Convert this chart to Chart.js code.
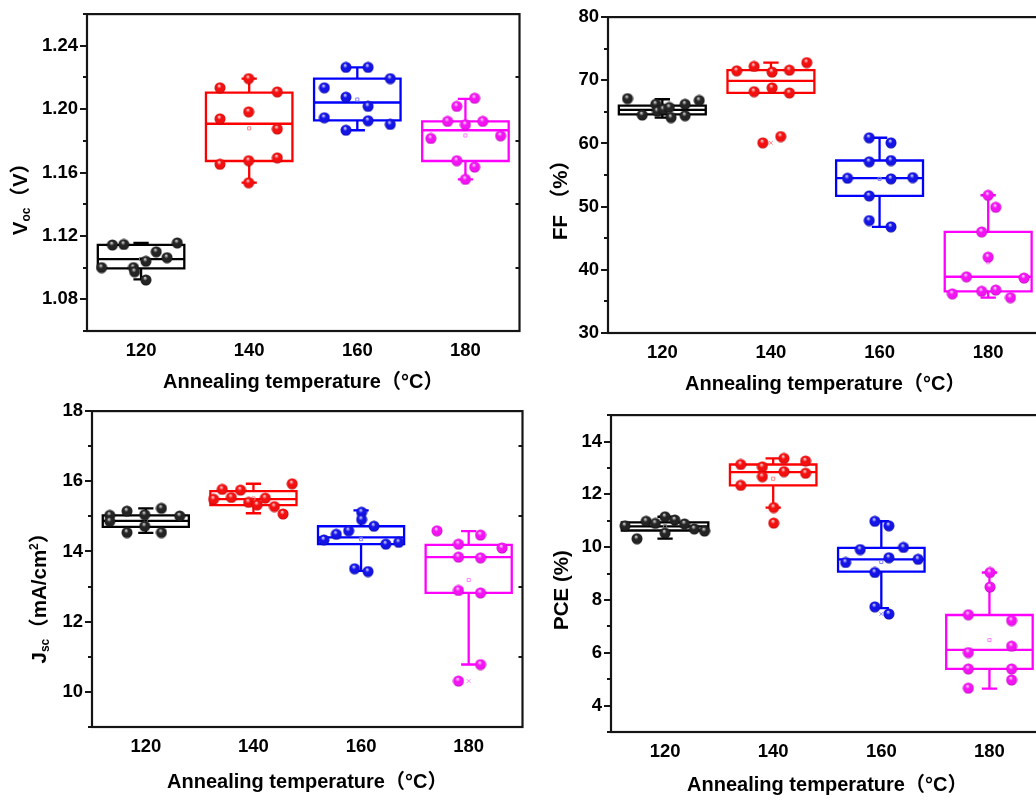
<!DOCTYPE html>
<html>
<head>
<meta charset="utf-8">
<script src="https://cdn.jsdelivr.net/npm/chart.js@4.4.1/dist/chart.umd.min.js"></script>
<style>
    html, body { margin: 0; padding: 0; width: 1036px; height: 800px; overflow: hidden; background: #fff; }
    canvas { position: absolute; }
</style>
</head>
<body>
<canvas id="voc"></canvas>
<canvas id="ff"></canvas>
<canvas id="jsc"></canvas>
<canvas id="pce"></canvas>
<script>
// ========================================
// Device parameters vs. annealing temperature (box + scatter)
// ========================================

const temps = [120, 140, 160, 180];
const tempTicks = [120, 140, 160, 180];

// Voc (V) — x holds the jittered position of each device inside its box
const vocX = [
    [114.7, 116.8, 126.7, 122.8, 124.8, 120.9, 112.7, 118.6, 118.8, 120.9],
    [134.6, 139.9, 145.2, 139.9, 134.6, 145.2, 134.6, 139.9, 145.2, 139.9],
    [157.9, 162.0, 166.1, 153.9, 157.9, 162.0, 153.9, 162.0, 166.1, 157.9],
    [181.7, 178.4, 176.7, 180.0, 183.2, 173.6, 186.5, 178.4, 181.7, 180.0]
];
const vocY = [
    [1.1143, 1.1146, 1.1156, 1.1100, 1.1063, 1.1040, 1.1000, 1.1000, 1.0974, 1.0922],
    [1.2135, 1.2193, 1.2109, 1.1983, 1.1939, 1.1875, 1.1652, 1.1675, 1.1693, 1.1536],
    [1.2264, 1.2264, 1.2193, 1.2135, 1.2076, 1.2018, 1.1946, 1.1927, 1.1904, 1.1867],
    [1.2069, 1.2018, 1.1923, 1.1902, 1.1923, 1.1815, 1.1832, 1.1675, 1.1635, 1.1557]
];
const vocQ1 = [1.0995, 1.1673, 1.1929, 1.1673];
const vocMed = [1.1053, 1.1908, 1.2042, 1.1867];
const vocQ3 = [1.1143, 1.2104, 1.2193, 1.1923];
const vocLo = [1.0926, 1.1536, 1.1867, 1.1557];
const vocHi = [1.1156, 1.2193, 1.2264, 1.2065];
const vocMean = [1.1054, 1.1879, 1.2061, 1.1834];
const vocCross = [null, null, null, null];
const vocTicks = [1.08, 1.12, 1.16, 1.20, 1.24];

// FF (%)
const ffX = [
    [113.6, 116.3, 118.8, 119.1, 120.2, 121.6, 124.2, 124.2, 126.8, 121.3],
    [133.7, 136.9, 140.2, 143.4, 146.6, 136.9, 140.2, 143.4, 138.5, 141.8],
    [158.1, 162.1, 158.1, 162.1, 154.1, 162.1, 166.1, 158.1, 158.1, 162.1],
    [180.0, 181.4, 178.8, 180.0, 176.0, 186.6, 173.4, 178.8, 181.4, 184.1]
];
const ffY = [
    [67.1, 64.5, 66.2, 65.1, 65.4, 64.1, 66.2, 64.4, 66.8, 65.7],
    [71.5, 72.2, 71.3, 71.6, 72.8, 68.2, 68.8, 68.0, 60.1, 61.1],
    [60.9, 60.1, 57.1, 57.3, 54.5, 54.4, 54.6, 51.7, 47.8, 46.8],
    [51.8, 49.9, 46.0, 42.0, 38.9, 38.7, 36.2, 36.6, 36.8, 35.6]
];
const ffQ1 = [64.6, 68.0, 51.7, 36.6];
const ffMed = [65.3, 69.9, 54.5, 38.9];
const ffQ3 = [66.0, 71.6, 57.3, 46.0];
const ffLo = [64.1, 68.0, 46.8, 35.6];
const ffHi = [67.0, 72.8, 60.9, 51.8];
const ffMean = [65.5, 68.5, 54.4, 41.2];
const ffCross = [null, 60.1, null, null];
const ffTicks = [30, 40, 50, 60, 70, 80];

// Jsc (mA/cm2)
const jscX = [
    [113.3, 113.3, 116.5, 116.5, 119.8, 119.8, 122.9, 122.9, 126.3],
    [132.6, 134.2, 135.9, 137.6, 139.1, 140.7, 142.2, 143.9, 145.5, 147.2],
    [153.1, 155.4, 157.7, 160.1, 160.1, 162.4, 164.6, 167.0, 158.8, 161.3],
    [174.1, 178.1, 182.2, 186.2, 178.1, 182.2, 178.1, 182.2, 182.2, 178.1]
];
const jscY = [
    [15.03, 14.86, 15.15, 14.54, 15.05, 14.72, 15.23, 14.54, 15.01],
    [15.49, 15.77, 15.54, 15.75, 15.40, 15.33, 15.52, 15.28, 15.07, 15.93],
    [14.33, 14.49, 14.59, 15.12, 14.91, 14.72, 14.21, 14.26, 13.51, 13.43],
    [14.59, 14.21, 14.47, 14.10, 13.84, 13.82, 12.89, 12.82, 10.78, 10.31]
];
const jscQ1 = [14.70, 15.32, 14.21, 12.82];
const jscMed = [14.87, 15.49, 14.40, 13.84];
const jscQ3 = [15.03, 15.72, 14.72, 14.19];
const jscLo = [14.53, 15.09, 13.45, 10.78];
const jscHi = [15.23, 15.93, 15.17, 14.58];
const jscMean = [14.88, 15.51, 14.35, 13.19];
const jscCross = [null, null, null, 10.31];
const jscTicks = [10, 12, 14, 16, 18];

// PCE (%)
const pceX = [
    [112.6, 114.8, 116.5, 118.2, 120.0, 120.0, 121.8, 123.6, 125.4, 127.3],
    [134.0, 134.0, 138.0, 138.0, 142.0, 142.0, 146.0, 146.0, 140.1, 140.1],
    [153.4, 156.1, 158.8, 158.8, 161.4, 161.4, 164.1, 166.8, 158.8, 161.4],
    [180.1, 180.1, 176.1, 184.1, 176.1, 184.1, 176.1, 184.1, 184.1, 176.1]
];
const pceY = [
    [10.81, 10.32, 10.98, 10.90, 11.15, 10.53, 11.03, 10.88, 10.69, 10.61],
    [13.13, 12.34, 13.04, 12.67, 13.36, 12.86, 13.26, 12.80, 11.50, 10.91],
    [9.42, 9.91, 9.04, 10.98, 10.81, 9.60, 9.99, 9.54, 7.74, 7.47],
    [9.04, 8.49, 7.44, 7.22, 6.01, 6.25, 5.39, 5.39, 4.97, 4.66]
];
const pceQ1 = [10.63, 12.34, 9.07, 5.39];
const pceMed = [10.79, 12.84, 9.54, 6.11];
const pceQ3 = [10.94, 13.13, 9.97, 7.43];
const pceLo = [10.32, 11.50, 7.69, 4.64];
const pceHi = [11.15, 13.36, 10.98, 9.04];
const pceMean = [10.79, 12.59, 9.44, 6.48];
const pceCross = [null, null, 7.47, null];
const pceTicks = [4, 6, 8, 10, 12, 14];

// ---------- styling ----------
const FONT = '"Liberation Sans", Arial, "Noto Sans CJK SC", sans-serif';
const AXIS = '#151515';
const lineColors = ['#000000', '#ff0000', '#0000ff', '#ff00ff'];
const meanColors = ['#777777', '#ff8080', '#8080ff', '#ff80ff'];
const ballShades = [
    ['#d8d8d8', '#242424', '#000000'],
    ['#ffd8d8', '#f21010', '#a80000'],
    ['#d8d8ff', '#1414e6', '#000090'],
    ['#ffd8ff', '#f214f2', '#a800a8']
];
const BOX_HALF = 8;     // box half width, in °C
const CAP_HALF = 1.2;   // whisker cap half width, in °C

// shaded sphere used as point marker
function makeBall([light, base, edge]) {
    const c = document.createElement('canvas');
    c.width = c.height = 12;
    const g = c.getContext('2d');
    const grd = g.createRadialGradient(5.0, 3.7, 0.3, 6, 6, 5.8);
    grd.addColorStop(0, light);
    grd.addColorStop(0.36, base);
    grd.addColorStop(0.8, base);
    grd.addColorStop(1, edge);
    g.fillStyle = grd;
    g.beginPath();
    g.arc(6, 6, 5.5, 0, Math.PI * 2);
    g.fill();
    return c;
}
const balls = ballShades.map(makeBall);

// box outline, median and whiskers as one broken polyline
function boxOutline(t, q1, med, q3, lo, hi) {
    const l = t - BOX_HALF, r = t + BOX_HALF, gap = { x: t, y: null };
    return [
        { x: l, y: q1 }, { x: r, y: q1 }, { x: r, y: q3 }, { x: l, y: q3 }, { x: l, y: q1 }, gap,
        { x: l, y: med }, { x: r, y: med }, gap,
        { x: t, y: q3 }, { x: t, y: hi }, gap,
        { x: t - CAP_HALF, y: hi }, { x: t + CAP_HALF, y: hi }, gap,
        { x: t, y: q1 }, { x: t, y: lo }, gap,
        { x: t - CAP_HALF, y: lo }, { x: t + CAP_HALF, y: lo }
    ];
}

function buildDatasets(xs, ys, q1, med, q3, lo, hi, mean, cross) {
    const sets = [];
    temps.forEach((t, i) => {
        sets.push({
            data: xs[i].map((x, k) => ({ x, y: ys[i][k] })),
            pointStyle: balls[i], pointRadius: 5.5, order: 0
        });
        sets.push({
            data: boxOutline(t, q1[i], med[i], q3[i], lo[i], hi[i]),
            showLine: true, borderColor: lineColors[i], borderWidth: 2.3,
            borderCapStyle: 'square', borderJoinStyle: 'miter', pointRadius: 0, order: 2
        });
        sets.push({
            data: [{ x: t, y: mean[i] }],
            pointStyle: 'rect', pointRadius: 2.2, borderWidth: 1,
            borderColor: meanColors[i], backgroundColor: 'transparent', order: 1
        });
        if (cross[i] != null) {
            sets.push({
                data: [{ x: t, y: cross[i] }],
                pointStyle: 'crossRot', pointRadius: 2.6, borderWidth: 1,
                borderColor: meanColors[i], order: 1
            });
        }
    });
    return sets;
}

// frame, minor ticks and rich-text axis titles
const panelDecor = {
    id: 'panelDecor',
    afterDraw(chart, args, o) {
        const { ctx, chartArea: a, scales: { y } } = chart;
        ctx.save();
        ctx.strokeStyle = AXIS;
        ctx.lineWidth = 2.2;
        ctx.strokeRect(a.left, a.top, a.right - a.left, a.bottom - a.top);

        const maj = o.yTicks, step = maj[1] - maj[0];
        ctx.lineWidth = 1.8;
        ctx.beginPath();
        maj.forEach(v => {
            const py = Math.round(y.getPixelForValue(v));
            ctx.moveTo(a.left - 7, py); ctx.lineTo(a.left, py);
        });
        for (let i = -1; i < maj.length; i++) {
            const v = maj[0] + (i + 0.5) * step;
            if (v < y.min - 1e-9 || v > y.max + 1e-9) continue;
            const py = Math.round(y.getPixelForValue(v));
            ctx.moveTo(a.left - 4, py); ctx.lineTo(a.left, py);
            ctx.moveTo(a.right, py); ctx.lineTo(a.right - 4, py);
        }
        ctx.stroke();

        ctx.fillStyle = '#000';
        // x title
        ctx.font = 'bold 20px ' + FONT;
        ctx.textAlign = 'center';
        ctx.textBaseline = 'alphabetic';
        ctx.fillText('Annealing temperature（°C）', (a.left + a.right) / 2, a.bottom + o.xTitleDy);

        // y title, rotated, with sub/superscripts
        const sizes = { main: 20.5, sub: 12, sup: 12 };
        const shift = { main: 0, sub: 3, sup: -8 };
        const parts = o.yTitle.map(([t, k = 'main']) => ({ t, k }));
        let total = 0;
        parts.forEach(p => {
            ctx.font = `bold ${sizes[p.k]}px ${FONT}`;
            p.w = ctx.measureText(p.t).width;
            total += p.w;
        });
        ctx.translate(a.left + o.yTitleDx, a.top + o.yTitleDy);
        ctx.rotate(-Math.PI / 2);
        ctx.textAlign = 'left';
        let cx = -total / 2;
        parts.forEach(p => {
            ctx.font = `bold ${sizes[p.k]}px ${FONT}`;
            ctx.fillText(p.t, cx, shift[p.k]);
            cx += p.w;
        });
        ctx.restore();
    }
};

const PAD_L = 90, PAD_T = 14, PAD_R = 6, PAD_B = 72;

function createPanel(id, plot, yMin, yMax, yTicks, decimals, datasets, decor) {
    const el = document.getElementById(id);
    const w = plot.r - plot.l + PAD_L + PAD_R;
    const h = plot.b - plot.t + PAD_T + PAD_B;
    el.width = w; el.height = h;
    el.style.left = (plot.l - PAD_L) + 'px';
    el.style.top = (plot.t - PAD_T) + 'px';
    el.style.width = w + 'px';
    el.style.height = h + 'px';

    const tickFont = { family: FONT, size: 18.5, weight: 'bold' };
    return new Chart(el, {
        type: 'scatter',
        data: { datasets },
        options: {
            responsive: false,
            animation: false,
            events: [],
            layout: { padding: { left: 0, top: PAD_T, right: PAD_R, bottom: 0 } },
            plugins: {
                legend: { display: false },
                tooltip: { enabled: false },
                panelDecor: { yTicks, ...decor }
            },
            scales: {
                x: {
                    type: 'linear', min: 110, max: 190,
                    afterBuildTicks: s => { s.ticks = tempTicks.map(v => ({ value: v })); },
                    afterFit: s => { s.height = PAD_B; },
                    grid: { display: false, drawTicks: false },
                    border: { display: false },
                    ticks: { padding: 9, autoSkip: false, maxRotation: 0, color: '#000', font: tickFont, callback: v => String(v) }
                },
                y: {
                    type: 'linear', min: yMin, max: yMax,
                    afterBuildTicks: s => { s.ticks = yTicks.map(v => ({ value: v })); },
                    afterFit: s => { s.width = PAD_L; },
                    grid: { display: false, drawTicks: false },
                    border: { display: false },
                    ticks: { padding: 9, autoSkip: false, color: '#000', font: tickFont, callback: v => v.toFixed(decimals) }
                }
            }
        },
        plugins: [panelDecor]
    });
}

createPanel('voc', { l: 87, t: 8, r: 520, b: 331 }, 1.06, 1.26, vocTicks, 2,
    buildDatasets(vocX, vocY, vocQ1, vocMed, vocQ3, vocLo, vocHi, vocMean, vocCross),
    { yTitle: [['V'], ['oc', 'sub'], ['（V）']], yTitleDx: -60, yTitleDy: 180, xTitleDy: 57 });

createPanel('ff', { l: 608, t: 11, r: 1043, b: 333 }, 30, 80, ffTicks, 0,
    buildDatasets(ffX, ffY, ffQ1, ffMed, ffQ3, ffLo, ffHi, ffMean, ffCross),
    { yTitle: [['FF （%）']], yTitleDx: -41, yTitleDy: 178, xTitleDy: 57 });

createPanel('jsc', { l: 92, t: 405, r: 523, b: 727 }, 9, 18, jscTicks, 0,
    buildDatasets(jscX, jscY, jscQ1, jscMed, jscQ3, jscLo, jscHi, jscMean, jscCross),
    { yTitle: [['J'], ['sc', 'sub'], ['（mA/cm'], ['2', 'sup'], ['）']], yTitleDx: -46, yTitleDy: 182, xTitleDy: 61 });

createPanel('pce', { l: 611, t: 409, r: 1044, b: 732 }, 3, 15, pceTicks, 0,
    buildDatasets(pceX, pceY, pceQ1, pceMed, pceQ3, pceLo, pceHi, pceMean, pceCross),
    { yTitle: [['PCE (%)']], yTitleDx: -43, yTitleDy: 175, xTitleDy: 59 });
</script>
</body>
</html>
